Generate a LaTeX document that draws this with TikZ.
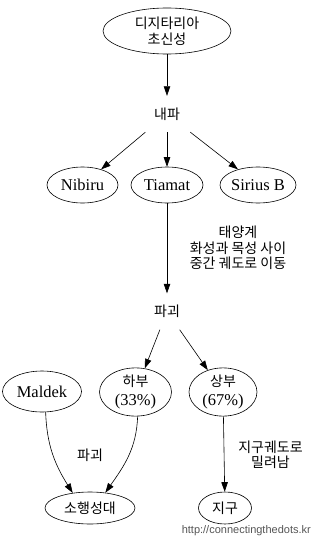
\documentclass[tikz,border=0pt]{standalone}
\usepackage{fontspec}
\setmainfont{Liberation Serif}
\newfontfamily\kr{Noto Sans CJK KR}
\newfontfamily\urlfont{Liberation Sans}
\usetikzlibrary{arrows.meta,shapes.geometric}
\definecolor{urlgray}{RGB}{85,85,85}
\begin{document}
\begin{tikzpicture}[x=1pt,y=1pt,
  ell/.style={draw, ellipse, inner sep=0pt, line width=0.6pt},
  plainnode/.style={minimum width=54pt, minimum height=36pt, inner sep=0pt},
  krt/.style={font=\kr\fontsize{14}{16}\selectfont, align=center},
  krlbl/.style={font=\kr\fontsize{14}{15.5}\selectfont, align=center, inner sep=0pt},
  lat/.style={font=\fontsize{16.5}{19}\selectfont, align=center},
  edge/.style={draw, line width=0.6pt, -{Triangle[length=9.5pt,width=6.5pt]}},
]
\useasboundingbox (0,0) rectangle (313,-543);
\node[ell, krt, minimum width=128pt, minimum height=46pt] (dig) at (167,-31) {디지타리아\\초신성};
\node[plainnode, krt] (naepa) at (167,-114) {내파};
\node[ell, lat, minimum width=71pt, minimum height=36pt] (nibiru) at (82.5,-185) {Nibiru};
\node[ell, lat, minimum width=72pt, minimum height=36pt] (tiamat) at (167,-185) {Tiamat};
\node[ell, lat, minimum width=76pt, minimum height=36pt] (sirius) at (258,-185) {Sirius B};
\node[krlbl] (movelbl) at (238,-248) {태양계\\화성과 목성 사이\\중간 궤도로 이동};
\node[plainnode, krt] (pagoe) at (167,-311.5) {파괴};
\node[ell, lat, minimum width=79pt, minimum height=41pt] (maldek) at (42,-391.5) {Maldek};
\node[ell, lat, minimum width=72pt, minimum height=48pt] (habu) at (135.5,-392) {{\kr\fontsize{14}{19}\selectfont 하부}\\(33\%)};
\node[ell, lat, minimum width=68pt, minimum height=48pt] (sangbu) at (223,-392) {{\kr\fontsize{14}{19}\selectfont 상부}\\(67\%)};
\node[ell, krt, minimum width=90pt, minimum height=32pt] (asteroid) at (90,-508) {소행성대};
\node[ell, krt, minimum width=53pt, minimum height=32pt] (earth) at (225,-508) {지구};
\node[krlbl] (pagoelbl) at (90,-455.5) {파괴};
\node[krlbl] (earthlbl) at (270.5,-455) {지구궤도로\\밀려남};
\node[font=\urlfont\fontsize{11}{13}\selectfont, text=urlgray, anchor=base east, inner sep=0pt] (url) at (311,-533) {http://connectingthedots.kr};
\draw[edge] (dig) -- (naepa);
\draw[edge] (naepa) -- (nibiru);
\draw[edge] (naepa) -- (tiamat);
\draw[edge] (naepa) -- (sirius);
\draw[edge] (tiamat) -- (pagoe);
\draw[edge] (pagoe) -- (habu);
\draw[edge] (pagoe) -- (sangbu);
\draw[edge] (maldek.-80) to[out=-88,in=122] (asteroid.139);
\draw[edge] (habu.-85) to[out=-92,in=55] (asteroid.45);
\draw[edge] (sangbu) -- (earth);
\end{tikzpicture}
\end{document}
